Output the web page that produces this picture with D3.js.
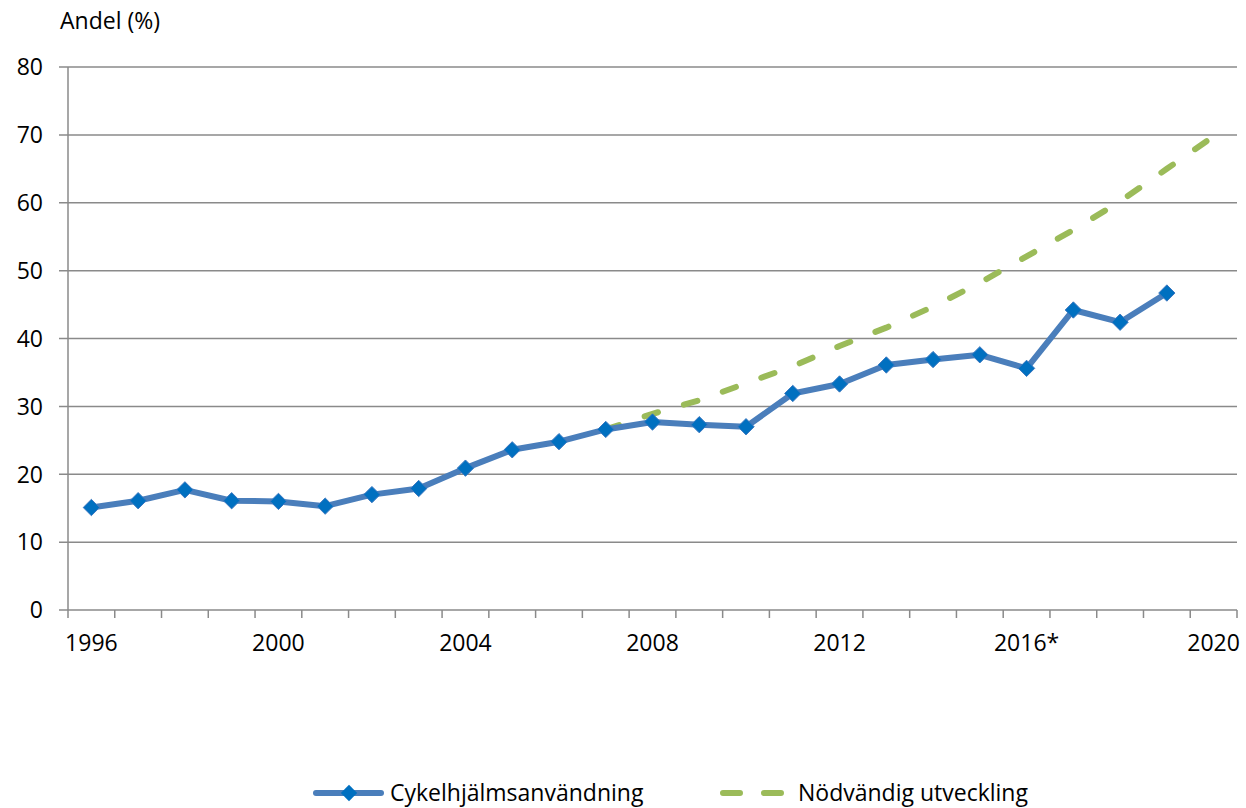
<!DOCTYPE html>
<meta charset="utf-8">
<style>
body { margin: 0; background: #fff; }
text { font-family: "Open Sans", Lato, sans-serif; fill: #000; }
</style>
<body>
<script src="https://d3js.org/d3.v7.min.js"></script>
<script>

// data
var years = ["1996","1997","1998","1999","2000","2001","2002","2003","2004","2005","2006","2007",
             "2008","2009","2010","2011","2012","2013","2014","2015","2016","2017","2018","2019","2020"];
var helmetYears = years.slice(0, 24);
var helmet = [15.1, 16.1, 17.7, 16.1, 16.0, 15.3, 17.0, 17.9, 20.9, 23.6, 24.8, 26.6,
              27.7, 27.3, 27.0, 31.9, 33.3, 36.1, 36.9, 37.6, 35.6, 44.2, 42.4, 46.7];
var neededYears = years.slice(11);
var needed = [26.6, 28.9, 30.9, 33.4, 35.9, 38.9, 41.6, 44.7, 48.2, 52.1, 56.0, 60.2, 65.0, 69.8];
var yTicks = [0, 10, 20, 30, 40, 50, 60, 70, 80];
var xLabels = {"1996":"1996","2000":"2000","2004":"2004","2008":"2008","2012":"2012","2016":"2016*","2020":"2020"};

var margin = {top: 67, right: 9, bottom: 198, left: 68},
    width = 1246 - margin.left - margin.right,
    height = 808 - margin.top - margin.bottom;

var x = d3.scaleBand().domain(years).range([0, width]).padding(0);
var y = d3.scaleLinear().domain([0, 80]).range([height, 0]);

var svg = d3.select("body").append("svg")
    .attr("width", 1246)
    .attr("height", 808);

var g = svg.append("g")
    .attr("transform", "translate(" + margin.left + "," + margin.top + ")");

// gridlines + y labels
g.selectAll(".grid")
    .data(yTicks)
  .enter().append("line")
    .attr("x1", -9).attr("x2", width)
    .attr("y1", function(d) { return y(d); })
    .attr("y2", function(d) { return y(d); })
    .attr("stroke", "#8a8a8a")
    .attr("stroke-width", 1.5);

g.selectAll(".ylab")
    .data(yTicks)
  .enter().append("text")
    .attr("x", -25)
    .attr("y", function(d) { return y(d); })
    .attr("dy", "0.36em")
    .attr("text-anchor", "end")
    .style("font-size", "23px")
    .text(function(d) { return d; });

// y axis line
g.append("line")
    .attr("x1", 0).attr("x2", 0)
    .attr("y1", 0).attr("y2", height)
    .attr("stroke", "#8a8a8a")
    .attr("stroke-width", 1.5);

// x ticks at category edges
var edges = years.map(function(d) { return x(d); }).concat([width]);
g.selectAll(".xtick")
    .data(edges)
  .enter().append("line")
    .attr("x1", function(d) { return d; })
    .attr("x2", function(d) { return d; })
    .attr("y1", height).attr("y2", height + 8)
    .attr("stroke", "#8a8a8a")
    .attr("stroke-width", 1.5);

// x labels
g.append("g")
    .attr("transform", "translate(0," + height + ")")
    .call(d3.axisBottom(x)
        .tickSize(0)
        .tickPadding(25)
        .tickValues(Object.keys(xLabels))
        .tickFormat(function(d) { return xLabels[d]; }))
    .call(function(a) { a.select(".domain").remove(); })
    .selectAll("text")
    .style("font-family", "'Open Sans', Lato, sans-serif")
    .style("font-size", "23px")
    .attr("fill", "#000");

// axis title
svg.append("text")
    .attr("x", 60)
    .attr("y", 29)
    .style("font-size", "23px")
    .text("Andel (%)");

var cx = function(d) { return x(d) + x.bandwidth() / 2; };

// needed development (dashed)
var neededLine = d3.line()
    .x(function(d, i) { return cx(neededYears[i]); })
    .y(function(d) { return y(d); });

g.append("path")
    .datum(needed)
    .attr("d", neededLine)
    .attr("fill", "none")
    .attr("stroke", "#9bbb59")
    .attr("stroke-width", 6)
    .attr("stroke-linecap", "round")
    .attr("stroke-dasharray", "14,27");

// helmet use
var helmetLine = d3.line()
    .x(function(d, i) { return cx(helmetYears[i]); })
    .y(function(d) { return y(d); });

g.append("path")
    .datum(helmet)
    .attr("d", helmetLine)
    .attr("fill", "none")
    .attr("stroke", "#4a7ebb")
    .attr("stroke-width", 6)
    .attr("stroke-linejoin", "round");

var diamond = d3.symbol().type(d3.symbolDiamond2).size(170);
g.selectAll(".pt")
    .data(helmet)
  .enter().append("path")
    .attr("d", diamond)
    .attr("transform", function(d, i) { return "translate(" + cx(helmetYears[i]) + "," + y(d) + ")"; })
    .attr("fill", "#0070c0")
    .attr("stroke", "#3c78c0")
    .attr("stroke-width", 1);

// legend
var leg = svg.append("g").attr("transform", "translate(0,793)");
leg.append("line")
    .attr("x1", 316).attr("x2", 381)
    .attr("stroke", "#4a7ebb").attr("stroke-width", 6).attr("stroke-linecap", "round");
leg.append("path")
    .attr("d", diamond)
    .attr("transform", "translate(349,0)")
    .attr("fill", "#0070c0");
leg.append("text")
    .attr("x", 390).attr("dy", "0.36em")
    .style("font-size", "23px")
    .text("Cykelhjälmsanvändning");

leg.append("line")
    .attr("x1", 723).attr("x2", 784)
    .attr("stroke", "#9bbb59").attr("stroke-width", 6).attr("stroke-linecap", "round")
    .attr("stroke-dasharray", "17,24");
leg.append("text")
    .attr("x", 798).attr("dy", "0.36em")
    .style("font-size", "23px")
    .text("Nödvändig utveckling");

</script>
</body>
